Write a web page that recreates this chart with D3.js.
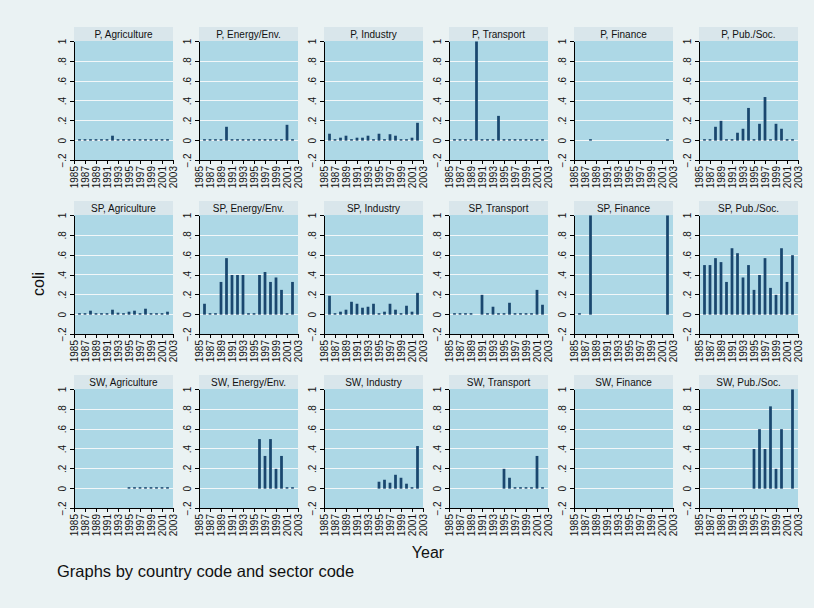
<!DOCTYPE html>
<html>
<head>
<meta charset="utf-8">
<script src="https://cdn.jsdelivr.net/npm/d3@7/dist/d3.min.js"></script>
<style>
    body { margin: 0; background: #eaf2f3; }
    svg { display: block; font-family: "Liberation Sans", Arial, sans-serif; }
    .plotbg { fill: #add8e6; }
    .strip { fill: #d9e6eb; }
    .strip-title { font-size: 10px; fill: #111; }
    .grid line { stroke: #f2f7f9; stroke-width: 1; shape-rendering: crispEdges; }
    .axis path, .axis line { stroke: #000; shape-rendering: crispEdges; }
    .axis text { font-size: 10px; fill: #111; font-family: "Liberation Sans", Arial, sans-serif; }
    .bar { fill: #1a476f; }
    .caption { fill: #111; }
</style>
</head>
<body>
<script>

var countries = ["P", "SP", "SW"];
var sectors = ["Agriculture", "Energy/Env.", "Industry", "Transport", "Finance", "Pub./Soc."];
var years = [1986, 1987, 1988, 1989, 1990, 1991, 1992, 1993, 1994, 1995, 1996, 1997, 1998, 1999, 2000, 2001, 2002];
var xTicks = [1985, 1987, 1989, 1991, 1993, 1995, 1997, 1999, 2001, 2003];
var yTicks = [-0.2, 0, 0.2, 0.4, 0.6, 0.8, 1];
var _ = null;

// coli by sector, one row per sector, one value per year (1986..2002)
var coliP = [
    [0, 0, 0, 0, 0, 0, 0.05, 0, 0, 0, 0, 0, 0, 0, 0, 0, 0],
    [0, 0, 0, 0, 0.14, 0, 0, 0, 0, 0, 0, 0, 0, 0, 0, 0.16, 0],
    [0.07, 0, 0.03, 0.05, 0, 0.03, 0.03, 0.05, 0, 0.07, 0, 0.065, 0.05, 0, 0, 0.03, 0.18],
    [0, 0, 0, 0, 1, 0, 0, 0, 0.25, 0, 0, 0, 0, 0, 0, 0, 0],
    [_, _, 0, _, _, _, _, _, _, _, _, _, _, _, _, _, 0],
    [0, 0, 0.14, 0.2, 0, 0, 0.08, 0.12, 0.33, 0, 0.17, 0.44, 0, 0.17, 0.12, 0, 0]
];
var coliSP = [
    [0, 0, 0.04, 0, 0, 0, 0.05, 0.02, 0, 0.03, 0.04, 0, 0.06, 0, 0, 0, 0.03],
    [0.11, 0, 0, 0.33, 0.57, 0.4, 0.4, 0.4, 0, 0, 0.4, 0.43, 0.33, 0.375, 0.25, 0, 0.33],
    [0.19, 0, 0.03, 0.05, 0.13, 0.11, 0.07, 0.08, 0.11, 0, 0.03, 0.11, 0.05, 0, 0.09, 0.03, 0.22],
    [0, 0, 0, 0, _, 0.2, 0, 0.08, 0, 0, 0.12, 0, 0, 0, 0, 0.25, 0.1],
    [0, _, 1, _, _, _, _, _, _, _, _, _, _, _, _, _, 1],
    [0.5, 0.5, 0.57, 0.53, 0.33, 0.67, 0.62, 0.375, 0.5, 0.25, 0.4, 0.57, 0.27, 0.2, 0.67, 0.33, 0.6]
];
var coliSW = [
    [_, _, _, _, _, _, _, _, _, 0, 0, 0, 0, 0, 0, 0, 0],
    [_, _, _, _, _, _, _, _, _, _, 0.5, 0.33, 0.5, 0.2, 0.33, 0, 0],
    [_, _, _, _, _, _, _, _, _, 0.07, 0.09, 0.06, 0.14, 0.11, 0.05, 0, 0.43],
    [_, _, _, _, _, _, _, _, _, 0.2, 0.11, 0, 0, 0, 0, 0.33, 0],
    [_, _, _, _, _, _, _, _, _, _, _, _, _, _, _, _, _],
    [_, _, _, _, _, _, _, _, _, 0.4, 0.6, 0.4, 0.83, 0.2, 0.6, _, 1]
];
var coli = [coliP, coliSP, coliSW];


var width = 814
    , height = 608
    , left0 = 74
    , top0 = 41
    , colStep = 125
    , rowStep = 174
    , pw = 99
    , ph = 119
    , stripH = 14
    ;

var svg = d3.select("body").append("svg")
    .attr("width", width)
    .attr("height", height);

svg.append("rect")
    .attr("width", width)
    .attr("height", height)
    .attr("fill", "#eaf2f3");

var x = d3.scaleLinear()
    .domain([1985, 2003])
    .range([0, pw]);

var y = d3.scaleLinear()
    .domain([-0.2, 1])
    .range([ph, 0]);

var bw = (x(1) - x(0)) * 0.5;

function yfmt(d) {
    if (d === 0) return "0";
    if (d === 1) return "1";
    return (d < 0 ? "\u2212" : "") + String(Math.abs(d)).replace(/^0/, "");
}

countries.forEach(function(country, r) {
    sectors.forEach(function(sector, c) {
        var g = svg.append("g")
            .attr("transform", "translate(" + (left0 + c * colStep) + "," + (top0 + r * rowStep) + ")");

        g.append("rect")
            .attr("class", "strip")
            .attr("x", 0)
            .attr("y", -stripH)
            .attr("width", pw)
            .attr("height", stripH);

        g.append("text")
            .attr("class", "strip-title")
            .attr("x", pw / 2)
            .attr("y", -stripH / 2)
            .attr("dy", "0.35em")
            .attr("text-anchor", "middle")
            .text(country + ", " + sector);

        g.append("rect")
            .attr("class", "plotbg")
            .attr("width", pw)
            .attr("height", ph);

        g.append("g")
            .attr("class", "grid")
            .selectAll("line")
            .data(yTicks.filter(function(d) { return d > -0.2 && d < 1; }))
            .enter().append("line")
            .attr("x1", 0).attr("x2", pw)
            .attr("y1", function(d) { return Math.round(y(d)) + 0.5; })
            .attr("y2", function(d) { return Math.round(y(d)) + 0.5; });

        var rows = years.map(function(yr, i) {
            return {year: yr, value: coli[r][c][i]};
        }).filter(function(d) { return d.value !== null; });

        g.selectAll("rect.bar")
            .data(rows)
            .enter().append("rect")
            .attr("class", "bar")
            .attr("x", function(d) { return x(d.year) - bw / 2; })
            .attr("width", bw)
            .attr("y", function(d) {
                var h = Math.max(y(0) - y(d.value), 1.5);
                return y(0) - h + 0.5;
            })
            .attr("height", function(d) {
                return Math.max(y(0) - y(d.value), 1.5);
            });

        var yAxis = d3.axisLeft(y)
            .tickValues(yTicks)
            .tickSizeInner(4)
            .tickSizeOuter(0)
            .tickFormat(yfmt);

        g.append("g")
            .attr("class", "axis axis--y")
            .call(yAxis)
            .selectAll("text")
            .attr("x", null)
            .attr("dy", null)
            .attr("text-anchor", "middle")
            .attr("transform", "translate(-8,0) rotate(-90)");

        var xAxis = d3.axisBottom(x)
            .tickValues(xTicks)
            .tickSizeInner(4)
            .tickSizeOuter(0)
            .tickFormat(d3.format("d"));

        g.append("g")
            .attr("class", "axis axis--x")
            .attr("transform", "translate(0," + ph + ")")
            .call(xAxis)
            .selectAll("text")
            .attr("y", null)
            .attr("dy", null)
            .attr("text-anchor", "end")
            .attr("transform", "translate(3.5,6) rotate(-90)");

        g.selectAll(".axis .domain").attr("stroke", "#000");
    });
});

svg.append("text")
    .attr("class", "caption")
    .attr("transform", "translate(44,284) rotate(-90)")
    .attr("text-anchor", "middle")
    .style("font-size", "16px")
    .text("coli");

svg.append("text")
    .attr("class", "caption")
    .attr("x", 428)
    .attr("y", 558)
    .attr("text-anchor", "middle")
    .style("font-size", "16px")
    .text("Year");

svg.append("text")
    .attr("class", "caption")
    .attr("x", 57)
    .attr("y", 577)
    .style("font-size", "16.5px")
    .text("Graphs by country code and sector code");

</script>
</body>
</html>
